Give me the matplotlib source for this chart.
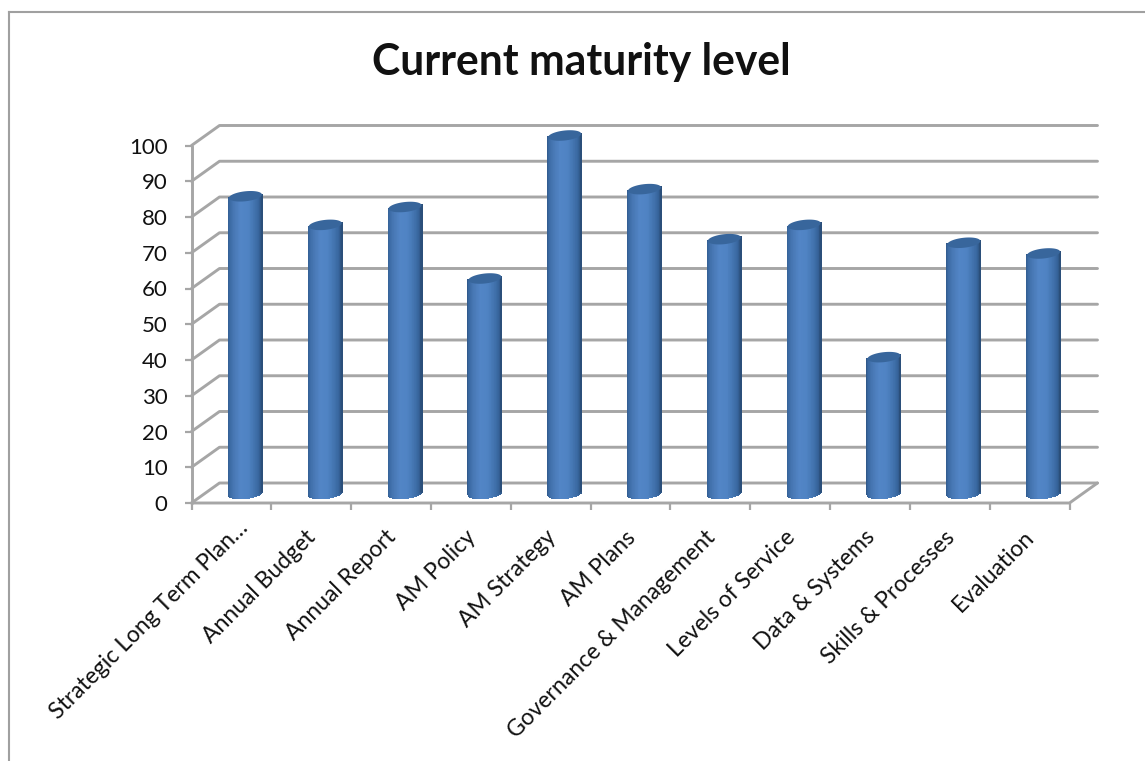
import numpy as np
import matplotlib
matplotlib.use("Agg")
import matplotlib.pyplot as plt
from matplotlib.lines import Line2D
from matplotlib.colors import LinearSegmentedColormap
from matplotlib.transforms import ScaledTranslation

categories = ["Strategic Long Term Plan…", "Annual Budget", "Annual Report", "AM Policy",
              "AM Strategy", "AM Plans", "Governance & Management", "Levels of Service",
              "Data & Systems", "Skills & Processes", "Evaluation"]
values = [83, 75, 80, 60, 100, 85, 71, 75, 38, 70, 67]
y_ticks = list(range(0, 101, 10))
title = "Current maturity level"

W, H = 1145, 761
GRID = "#a6a6a6"
plt.rcParams["font.family"] = ["Lato", "DejaVu Sans"]

fig = plt.figure(figsize=(W / 100, H / 100), dpi=100)
# front plane of the 3-D box, in pixels
left, right, top, bottom = 191.5, 1069.5, 145.5, 503.0
ax = fig.add_axes([left / W, 1 - bottom / H, (right - left) / W, (bottom - top) / H])
ax.set_xlim(0, len(categories))
ax.set_ylim(0, 100)
ax.patch.set_alpha(0)
for s in ax.spines.values():
    s.set_visible(False)

px_x = len(categories) / (right - left)
px_y = 100 / (bottom - top)
depth_x, depth_y = 28 * px_x, 20 * px_y
n = len(categories)

# outer chart frame, running off the right and bottom edges
for xs, ys in (([8.5, W], [11.5, 11.5]), ([8.5, 8.5], [11.5, H])):
    fig.add_artist(Line2D(np.array(xs) / W, 1 - np.array(ys) / H, color="#a0a0a0", lw=1.5))

# walls and floor
line_kw = dict(color=GRID, lw=2.1, clip_on=False, solid_capstyle="round", zorder=1)
for v in y_ticks:
    ax.plot([0, depth_x, n + depth_x], [v, v + depth_y, v + depth_y], **line_kw)
ax.plot([0, 0], [0, 100], **line_kw)
ax.plot([0, n, n + depth_x], [0, 0, depth_y], **line_kw)

# axis ticks and labels
ax.set_yticks(y_ticks)
ax.set_xticks(np.arange(n + 1))
ax.set_xticklabels([])
ax.tick_params(axis="both", which="major", color=GRID, width=1.6, length=5.2)
ax.tick_params(axis="y", labelsize=16, labelcolor="#111111", pad=12)
ax.set_xticks(np.arange(n) + 0.5, minor=True)
ax.set_xticklabels(categories, minor=True, rotation=45, ha="right", va="top",
                   rotation_mode="anchor", fontsize=16.5, color="#111111")
ax.tick_params(axis="x", which="minor", length=0, pad=17)
shift = ScaledTranslation(-6 / 100, 0, fig.dpi_scale_trans)
for lab in ax.get_xticklabels(minor=True):
    lab.set_transform(lab.get_transform() + shift)
# the truncated first label runs a little further along its slope
first = ax.get_xticklabels(minor=True)[0]
first.set_transform(first.get_transform() + ScaledTranslation(12 / 100, 9 / 100, fig.dpi_scale_trans))

# cylinders, each shaded by quads around its visible half
cyl_cmap = LinearSegmentedColormap.from_list(
    "cyl", ["#2f5687", "#3a69a2", "#4878b5", "#5285c6", "#4f83c3", "#4273ae", "#36639a", "#2b4f7a"])
half_w = 16.5 * px_x
rim = 5 * px_y
tilt = 1.7 * px_y
shade = np.linspace(0, 1, 60).reshape(1, -1)
edge_angles = np.linspace(np.pi, 2 * np.pi, 61)
theta = np.linspace(0, 2 * np.pi, 80)
base = depth_y / 2

def rim_curve(cx, cy, angles):
    return (cx + half_w * np.cos(angles),
            cy + rim * np.sin(angles) + tilt * np.cos(angles))

for i, v in enumerate(values):
    cx = i + 0.5 + depth_x / 2
    lx, ly = rim_curve(cx, base, edge_angles)
    ux, uy = rim_curve(cx, base + v, edge_angles)
    ax.pcolormesh(np.vstack([lx, ux]), np.vstack([ly, uy]), shade, cmap=cyl_cmap,
                  shading="flat", edgecolors="face", linewidth=0.3, zorder=3, clip_on=False)
    ex, ey = rim_curve(cx, base + v, theta)
    ax.fill(ex, ey, color="#38669c", zorder=4, clip_on=False, lw=0)

ax.set_xlim(0, n)
ax.set_ylim(0, 100)

fig.text(581 / W, 1 - 75 / H, title, ha="center", va="baseline", fontsize=30.7, fontweight="bold", color="#111111")
fig.savefig("out.png", dpi=100, facecolor="white")
